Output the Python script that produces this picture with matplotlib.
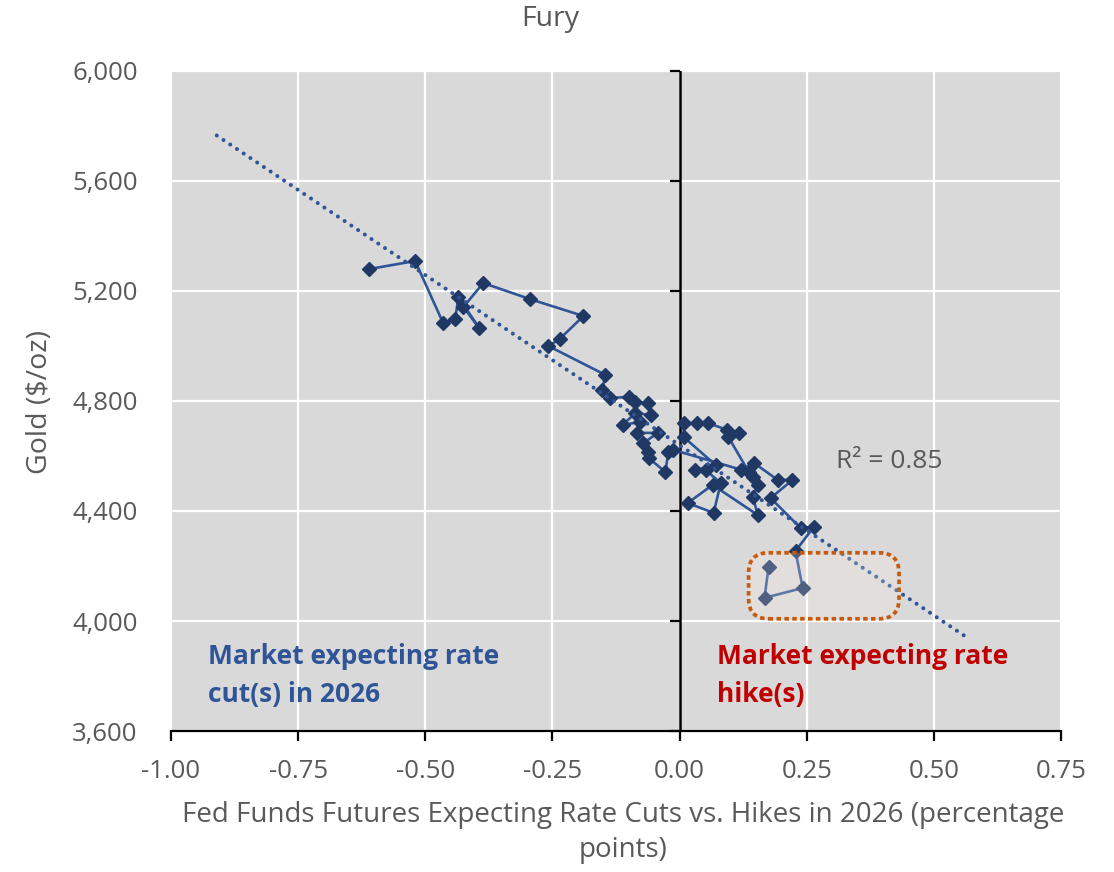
import numpy as np
import matplotlib
matplotlib.use("Agg")
import matplotlib.pyplot as plt
from matplotlib.patches import FancyBboxPatch
from matplotlib.ticker import FuncFormatter
from matplotlib.markers import TICKLEFT

plt.rcParams['font.family'] = ['Open Sans', 'DejaVu Sans']

# Datos (orden temporal aproximado)
fed_futures = [0.175, 0.167, 0.242, 0.228, 0.264, 0.238, 0.179, 0.222, 0.193, 0.146,
               0.120, 0.144, 0.154, 0.144, 0.154, 0.065, 0.016, 0.067, 0.081, 0.051,
               0.031, 0.071, 0.008, 0.008, 0.035, 0.055, 0.094, 0.116, 0.096, 0.136,
               -0.012, -0.022, -0.028, -0.061, -0.063, -0.071, -0.043, -0.083, -0.077, -0.112,
               -0.087, -0.057, -0.063, -0.087, -0.100, -0.136, -0.152, -0.146, -0.258, -0.236,
               -0.189, -0.295, -0.386, -0.425, -0.394, -0.435, -0.441, -0.465, -0.520, -0.610]
gold = [4196, 4084, 4120, 4255, 4342, 4338, 4447, 4513, 4513, 4575,
        4549, 4524, 4495, 4451, 4385, 4495, 4429, 4393, 4502, 4549,
        4549, 4567, 4669, 4720, 4720, 4720, 4695, 4684, 4669, 4542,
        4622, 4615, 4542, 4593, 4615, 4647, 4684, 4684, 4724, 4713,
        4756, 4749, 4793, 4796, 4815, 4811, 4840, 4895, 5000, 5025,
        5109, 5171, 5229, 5142, 5065, 5178, 5098, 5084, 5309, 5280]

x_ticks = [-1.00, -0.75, -0.50, -0.25, 0.00, 0.25, 0.50, 0.75]
y_ticks = [3600, 4000, 4400, 4800, 5200, 5600, 6000]
r2_label = "R\u00b2 = 0.85"

gris = "#595959"
azul_linea = "#2f5597"
azul_marca = "#1f3864"

fig = plt.figure(figsize=(11.14, 8.72), dpi=100)
ax = fig.add_axes([171 / 1114, 141 / 872, 890 / 1114, 660 / 872])
ax.set_facecolor("#d9d9d9")

ax.set_xlim(x_ticks[0], x_ticks[-1])
ax.set_ylim(y_ticks[0], y_ticks[-1])
ax.set_xticks(x_ticks)
ax.set_yticks(y_ticks)
ax.grid(True, color="white", linewidth=1.6, zorder=0)
ax.set_axisbelow(True)

for lado in ["top", "right", "left"]:
    ax.spines[lado].set_visible(False)
ax.spines["bottom"].set_color("black")
ax.spines["bottom"].set_linewidth(1.6)
ax.spines["bottom"].set_zorder(6)

ax.xaxis.set_major_formatter(FuncFormatter(lambda v, p: f"{v:.2f}"))
ax.yaxis.set_major_formatter(FuncFormatter(lambda v, p: f"{v:,.0f}"))
ax.tick_params(axis="x", direction="out", length=7, width=1.6, color="black",
               labelsize=18.5, labelcolor=gris, pad=13)
ax.tick_params(axis="y", length=0, labelsize=18.5, labelcolor=gris, pad=24)

# eje vertical en x = 0 con sus marcas
ax.axvline(0, color="black", linewidth=1.8, zorder=2)
ax.plot(np.zeros(len(y_ticks)), y_ticks, linestyle="none", marker=TICKLEFT,
        markersize=7, markeredgewidth=1.6, color="black", clip_on=False, zorder=2)

# serie
ax.plot(fed_futures, gold, color=azul_linea, linewidth=1.9, marker="D", markersize=7.5,
        markerfacecolor=azul_marca, markeredgecolor=azul_marca, zorder=3)

# linea de tendencia (ajuste lineal)
pendiente, corte = np.polyfit(fed_futures, gold, 1)
xt = np.array([min(fed_futures) - 0.3, max(fed_futures) + 0.3])
ax.plot(xt, pendiente * xt + corte, color=azul_linea, linewidth=2.9,
        linestyle=(0, (0.01, 2.0)), dash_capstyle="round", zorder=4)

# recuadro resaltado
caja = FancyBboxPatch((0.649, 0.170), 0.169, 0.100, transform=ax.transAxes,
                      boxstyle="round,pad=0,rounding_size=0.0225", mutation_aspect=1.35,
                      facecolor=(1.0, 0.95, 0.91, 0.22), edgecolor="#c55a11",
                      linewidth=2.7, linestyle=(0, (1.2, 0.9)), zorder=5)
ax.add_patch(caja)

ax.text(0.747, 0.398, r2_label, transform=ax.transAxes, fontsize=19, color=gris, va="baseline")

ax.text(0.042, 0.044, "Market expecting rate\ncut(s) in 2026", transform=ax.transAxes,
        fontsize=19, fontweight="bold", color=azul_linea, va="baseline", linespacing=1.52)
ax.text(0.613, 0.044, "Market expecting rate\nhike(s)", transform=ax.transAxes,
        fontsize=19, fontweight="bold", color="#c00000", va="baseline", linespacing=1.52)

fig.text(550 / 1114, 1 - 19 / 872, "Fury", ha="center", va="center", fontsize=20.5, color=gris)
fig.text(40 / 1114, 1 - 402 / 872, "Gold ($/oz)", ha="center", va="center", rotation=90,
         fontsize=20.5, color=gris)
fig.text(623 / 1114, 1 - 801 / 872,
         "Fed Funds Futures Expecting Rate Cuts vs. Hikes in 2026 (percentage\npoints)",
         ha="center", va="top", fontsize=20, color=gris, linespacing=1.35)

fig.savefig("out.png", dpi=100)
